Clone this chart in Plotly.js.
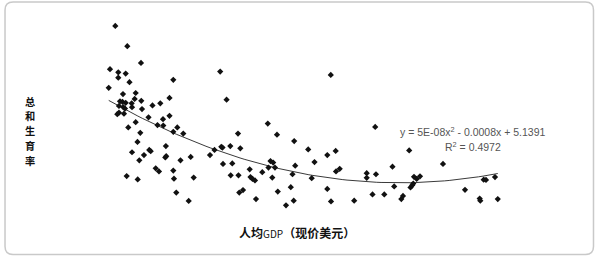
<!DOCTYPE html>
<html>
<head>
<meta charset="utf-8">
<script src="https://cdn.plot.ly/plotly-3.0.1.min.js"></script>
<style>html,body{margin:0;padding:0;background:#fff;}#chart{width:605px;height:261px;}</style>
</head>
<body>
<div id="chart"></div>
<script>
// GDP per capita (current US$)
const gdp = [200,529,904,55,282,485,282,589,1789,20,411,759,1685,329,397,485,731,649,912,1219,1433,301,419,466,658,932,255,301,438,1110,1507,1685,759,556,885,1356,1515,1789,1899,808,1586,658,986,1131,1170,858,1570,1595,1986,1307,1397,1789,512,814,1808,1871,2063,2266,2348,2211,3074,3249,
3104,3137,3351,3625,2918,2795,3151,3405,3362,3575,3562,4378,3882,3904,3959,4027,4227,4397,4452,4526,4575,4501,3597,3699,4055,4630,5101,5485,6008,6238,5658,6104,5129,5055,5581,6247,6348,7088,7088,7342,7321,4652,5008,4877,5088,6008,6110,6745,7247,7570,
8252,7794,9178,8384,8457,8548,7841,8288,8334,8364,8036,8082,9781,10293,10356,10603,10183,10200,10679];
// Total fertility rate
const tfr = [8.00,7.22,6.57,6.33,6.21,6.16,6.00,5.83,5.92,5.61,5.37,5.41,5.22,5.09,5.07,5.03,5.18,5.01,5.11,4.93,5.01,4.91,4.86,4.81,4.86,4.79,4.59,4.65,4.61,4.47,4.40,4.53,4.28,4.08,3.87,4.17,4.15,3.91,4.08,3.52,3.36,3.12,3.01,3.21,3.16,2.81,2.92,2.97,2.81,2.50,2.38,2.41,2.20,2.07,2.10,1.56,3.84,2.94,2.14,1.24,6.24,5.15,
3.33,3.30,3.36,3.27,3.21,3.01,2.67,2.69,2.23,2.23,3.84,4.23,2.46,2.16,2.09,2.03,2.35,2.53,2.78,2.72,2.53,2.14,1.56,1.66,1.31,3.80,3.55,3.23,3.01,3.17,2.74,6.11,2.60,2.27,2.12,2.38,2.48,2.31,2.13,2.27,4.10,1.60,1.77,1.07,1.25,1.70,1.22,1.25,1.49,1.49,
3.19,2.56,2.67,2.17,2.09,2.19,1.80,1.76,1.84,1.91,1.31,1.43,1.67,2.06,2.05,2.16,1.33,1.25,1.31];
// Trendline coefficients shown on chart: y = a x^2 + b x + c
const trendCoef = [5e-8, -0.0008, 5.1391];
const eqLabel = "y = 5E-08x<sup>2</sup> - 0.0008x + 5.1391";
const r2Label = "R<sup>2</sup> = 0.4972";
const yTitleChars = ["总", "和", "生", "育", "率"];
const xTitleParts = ["人均", "GDP", "（现价美元）"];

const xMin = Math.min(...gdp), xMax = Math.max(...gdp);
const trendX = [], trendY = [];
const N = 80;
for (let i = 0; i <= N; i++) {
  const x = xMin + (xMax - xMin) * i / N;
  trendX.push(x);
  trendY.push(trendCoef[0]*x*x + trendCoef[1]*x + trendCoef[2]);
}

const traces = [
  {x: trendX, y: trendY, mode: 'lines', type: 'scatter',
   line: {color: '#3a3a3a', width: 1}, hoverinfo: 'skip'},
  {x: gdp, y: tfr, mode: 'markers', type: 'scatter',
   marker: {symbol: 'diamond', size: 4.8, color: '#111'}}
];

// rounded frame in paper coordinates
const L = -0.1413, R = 1.1002, T = 1.0923, B = -0.2026, rx = 0.017, ry = 0.041;
const framePath = `M ${L+rx},${T} L ${R-rx},${T} Q ${R},${T} ${R},${T-ry} L ${R},${B+ry} Q ${R},${B} ${R-rx},${B} L ${L+rx},${B} Q ${L},${B} ${L},${B+ry} L ${L},${T-ry} Q ${L},${T} ${L+rx},${T} Z`;

const cjk = '"Noto Sans CJK SC", "Noto Sans", sans-serif';
const eqFont = {family: 'Liberation Sans, Arial, sans-serif', size: 10.5, color: '#555'};
const annotations = [
  {xref: 'paper', yref: 'paper', x: 0.845, y: 0.428, text: eqLabel, showarrow: false,
   font: eqFont, xanchor: 'center', yanchor: 'middle'},
  {xref: 'paper', yref: 'paper', x: 0.845, y: 0.350, text: r2Label, showarrow: false,
   font: eqFont, xanchor: 'center', yanchor: 'middle'},
  {xref: 'paper', yref: 'paper', x: 0.4747, y: -0.0908,
   text: '<b>' + xTitleParts[0] + '</b><span style="font-size:10px">' + xTitleParts[1] + '</span><b>' + xTitleParts[2] + '</b>',
   showarrow: false, font: {family: cjk, size: 12, color: '#111'}, xanchor: 'center', yanchor: 'middle'}
];
// vertical stacked y title (one character per row)
yTitleChars.forEach((ch, i) => {
  const py = 101 + i * 14.8;
  annotations.push({xref: 'paper', yref: 'paper', x: -0.0876, y: (215 - py) / 195,
    text: '<b>' + ch + '</b>', showarrow: false, font: {family: cjk, size: 10.2, color: '#111'},
    xanchor: 'center', yanchor: 'middle'});
});

const layout = {
  width: 605, height: 261,
  margin: {l: 72, r: 59, t: 20, b: 46},
  paper_bgcolor: '#fff', plot_bgcolor: '#fff',
  showlegend: false,
  xaxis: {range: [-986, 12000], visible: false, showgrid: false, zeroline: false},
  yaxis: {range: [0.695, 8.231], visible: false, showgrid: false, zeroline: false},
  shapes: [{type: 'path', xref: 'paper', yref: 'paper', path: framePath,
            line: {color: '#c9c9c9', width: 1.5}, fillcolor: 'rgba(0,0,0,0)', layer: 'below'}],
  annotations: annotations
};

Plotly.newPlot('chart', traces, layout, {displayModeBar: false, staticPlot: true});
</script>
</body>
</html>
